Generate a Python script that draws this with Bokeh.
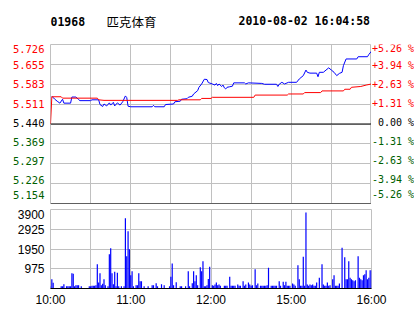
from bokeh.plotting import figure
from bokeh.layouts import column, row
from bokeh.models import Range1d, FixedTicker, Span, Grid, ColumnDataSource
from bokeh.core.properties import value
from bokeh.embed import file_html
from bokeh.resources import INLINE

code = "01968"
name = "匹克体育"
stamp = "2010-08-02 16:04:58"
prev_close = 5.440
price_ticks = [5.154, 5.226, 5.297, 5.369, 5.440, 5.511, 5.583, 5.655, 5.726]
price_labels = ["5.154", "5.226", "5.297", "5.369", "5.440", "5.511", "5.583", "5.655", "5.726"]
pct_labels = ["-5.26 %", "-3.94 %", "-2.63 %", "-1.31 %", "0.00 %", "+1.31 %", "+2.63 %", "+3.94 %", "+5.26 %"]
vol_ticks = [975, 1950, 2925, 3900]
time_ticks = [0, 60, 120, 180, 240]
time_labels = ["10:00", "11:00", "12:00", "15:00", "16:00"]
grid_minutes = [30, 60, 90, 120, 150, 180, 210]

# price line (minutes since open, price)
price_min = [1, 3, 5, 7, 9, 10, 15, 16, 19, 21, 22, 30, 31, 36, 37, 39, 40, 42, 44, 45,
             47, 48, 50, 52, 54, 56, 57, 58, 60, 76, 77, 78, 85, 86, 92, 93, 97, 98, 102, 103,
             106, 107, 110, 111, 113, 115, 117, 118, 121, 123, 124, 125, 126, 128, 129, 130, 131, 132, 134, 136,
             137, 145, 146, 148, 158, 160, 169, 170, 171, 173, 175, 178, 184, 186, 189, 191, 192, 194, 199, 200,
             201, 204, 206, 208, 210, 212, 214, 216, 218, 219, 221, 229, 230, 237, 238, 240]
price_val = [5.540, 5.530, 5.522, 5.515, 5.529, 5.515, 5.515, 5.537, 5.537, 5.528, 5.524, 5.524, 5.527, 5.527, 5.510, 5.503, 5.512, 5.505, 5.516, 5.508,
             5.518, 5.505, 5.516, 5.508, 5.520, 5.541, 5.535, 5.504, 5.502, 5.502, 5.507, 5.502, 5.502, 5.510, 5.512, 5.520, 5.522, 5.529, 5.531, 5.536,
             5.540, 5.548, 5.560, 5.572, 5.584, 5.601, 5.600, 5.589, 5.584, 5.580, 5.586, 5.578, 5.584, 5.575, 5.580, 5.570, 5.566, 5.572, 5.574, 5.576,
             5.588, 5.588, 5.584, 5.588, 5.586, 5.583, 5.583, 5.575, 5.583, 5.590, 5.584, 5.590, 5.590, 5.602, 5.614, 5.634, 5.626, 5.623, 5.623, 5.610,
             5.626, 5.626, 5.634, 5.642, 5.634, 5.626, 5.614, 5.622, 5.626, 5.650, 5.674, 5.674, 5.682, 5.682, 5.690, 5.702]

# average price line
avg_min = [0, 1, 8, 9, 35, 36, 40, 95, 96, 112, 113, 120, 121, 152, 153, 177, 178, 189, 190, 202,
           203, 219, 220, 224, 225, 232, 236, 240]
avg_val = [5.440, 5.538, 5.538, 5.533, 5.533, 5.527, 5.525, 5.525, 5.527, 5.527, 5.532, 5.532, 5.536, 5.536, 5.544, 5.544, 5.548, 5.548, 5.553, 5.553,
           5.559, 5.559, 5.565, 5.565, 5.572, 5.575, 5.580, 5.584]

# volume per minute
vol_min = [0, 1, 2, 8, 9, 10, 12, 13, 14, 15, 16, 17, 18, 19, 20, 21, 23, 29, 30, 31,
           32, 33, 34, 35, 36, 37, 38, 39, 40, 41, 43, 44, 45, 46, 47, 48, 49, 50, 51, 53,
           55, 56, 57, 58, 59, 60, 61, 62, 64, 65, 66, 67, 68, 70, 73, 76, 77, 79, 80, 83,
           85, 89, 90, 91, 92, 94, 97, 98, 101, 103, 104, 106, 107, 108, 109, 110, 112, 113, 114, 115,
           116, 117, 118, 119, 121, 122, 123, 124, 125, 126, 127, 130, 131, 132, 134, 135, 136, 137, 138, 140,
           141, 142, 144, 145, 146, 148, 149, 150, 151, 153, 154, 155, 157, 158, 159, 160, 161, 162, 163, 165,
           166, 167, 168, 169, 171, 172, 174, 175, 176, 177, 178, 179, 181, 182, 183, 185, 186, 187, 188, 189,
           190, 191, 192, 193, 194, 195, 196, 197, 198, 199, 201, 203, 204, 205, 206, 207, 208, 209, 211, 212,
           213, 214, 215, 216, 218, 220, 221, 222, 223, 224, 225, 226, 227, 228, 230, 231, 232, 233, 234, 235,
           236, 237, 238, 239, 240]
vol_val = [115, 460, 280, 115, 115, 214, 115, 115, 115, 115, 757, 724, 115, 165, 165, 165, 115, 115, 115, 140,
           140, 140, 165, 1200, 296, 757, 165, 230, 460, 165, 115, 1695, 1990, 757, 214, 823, 115, 774, 115, 115,
           115, 3473, 1597, 2831, 1942, 658, 856, 115, 165, 165, 757, 362, 362, 115, 115, 165, 165, 263, 115, 214,
           165, 115, 576, 1234, 165, 313, 115, 115, 115, 856, 115, 263, 856, 362, 658, 165, 1053, 856, 1350, 115,
           115, 165, 470, 1070, 165, 130, 200, 296, 165, 200, 130, 130, 130, 130, 576, 130, 130, 130, 130, 200,
           130, 130, 362, 130, 200, 296, 200, 130, 165, 955, 165, 247, 130, 130, 130, 130, 130, 165, 1020, 130,
           130, 130, 130, 130, 362, 130, 329, 165, 329, 130, 130, 130, 247, 200, 130, 1152, 461, 130, 130, 1564,
           130, 3753, 200, 130, 200, 165, 200, 130, 130, 296, 527, 1202, 200, 130, 130, 296, 130, 165, 461, 658,
           130, 130, 130, 247, 2008, 1547, 461, 461, 1350, 527, 461, 411, 362, 411, 1597, 527, 461, 411, 658, 708,
           905, 461, 527, 905, 905]

RED = "#ff0000"
GREEN = "#006000"
BLUE = "#0000ff"
GRID = "#c0c0c0"
MONO = "DejaVu Sans Mono"
SANS = "Liberation Sans"
CJK = "Noto Sans CJK SC"

LEFT_W, RIGHT_W, TOTAL_W = 50, 43, 414
MAIN_W = TOTAL_W - LEFT_W - RIGHT_W
HEAD_H, PRICE_H, GAP_H, VOL_FRAME_H, AXIS_H = 44, 159, 6, 79, 26

x_lo, x_hi = time_ticks[0], time_ticks[-1]
xr = Range1d(x_lo, x_hi)
yr_price = Range1d(price_ticks[0], price_ticks[-1])
# label columns: same scale as the price frame, extended down over the gap
per_px = (price_ticks[-1] - price_ticks[0]) / PRICE_H
yr_labels = Range1d(price_ticks[0] - GAP_H * per_px, price_ticks[-1])


def bare(width, height, x_range, y_range):
    f = figure(width=width, height=height, x_range=x_range, y_range=y_range,
               x_axis_type=None, y_axis_type=None, output_backend="svg",
               toolbar_location=None, min_border=0)
    f.outline_line_color = None
    return f


# ---------------- header ----------------
head = figure(width=TOTAL_W, height=HEAD_H, x_range=xr, y_range=Range1d(0, 1),
              x_axis_type=None, y_axis_type=None, output_backend="svg",
              toolbar_location=None, min_border_left=LEFT_W, min_border_right=RIGHT_W,
              min_border_top=0, min_border_bottom=0)
head.outline_line_color = None
head.text(x=[x_lo], y=[1], text=[code], text_align="left", text_baseline="alphabetic",
          y_offset=20.5, text_font=value(MONO), text_font_style="bold",
          text_font_size="11.5px", text_color="black")
head.text(x=[x_lo], y=[1], text=[name], text_align="left", text_baseline="alphabetic",
          x_offset=56, y_offset=20.5, text_font=value(CJK),
          text_font_size="12.5px", text_color="black")
head.text(x=[x_hi], y=[1], text=[stamp], text_align="right", text_baseline="alphabetic",
          x_offset=-1.5, y_offset=20.5, text_font=value(MONO), text_font_style="bold",
          text_font_size="11.5px", text_color="black")

# ---------------- price panel ----------------
p1 = figure(width=MAIN_W, height=PRICE_H + GAP_H, x_range=xr, y_range=yr_price,
            x_axis_type=None, y_axis_type=None, output_backend="svg",
            toolbar_location=None, min_border=0, min_border_bottom=GAP_H)
p1.outline_line_color = GRID
p1.add_layout(Grid(dimension=0, ticker=FixedTicker(ticks=grid_minutes), grid_line_color=GRID))
p1.add_layout(Grid(dimension=1, ticker=FixedTicker(ticks=price_ticks[1:-1]), grid_line_color=GRID))
p1.add_layout(Span(location=prev_close, dimension="width", line_color="black", line_width=1))
p1.add_layout(Span(location=price_ticks[0], dimension="width", line_color="black", line_width=1))
p1.line(price_min, price_val, line_color=BLUE, line_width=1)
p1.line(avg_min, avg_val, line_color=RED, line_width=1)

colors = [RED if v > prev_close else (GREEN if v < prev_close else "black") for v in price_ticks]
n = len(price_ticks)
dy = [(-3 if i == 0 else (4 if i == n - 1 else 1.5)) for i in range(n)]
dx_right = [6.5 if v == prev_close else 0.5 for v in price_ticks]

left_src = ColumnDataSource(dict(y=price_ticks, text=price_labels, color=colors, dy=dy))
right_src = ColumnDataSource(dict(y=price_ticks, text=pct_labels, color=colors, dy=dy, dx=dx_right))

pl = bare(LEFT_W, PRICE_H + GAP_H, Range1d(0, 1), yr_labels)
pl.text(x=1, y="y", text="text", source=left_src, text_color="color", y_offset="dy",
        x_offset=-6, text_align="right", text_baseline="middle",
        text_font=value(MONO), text_font_size="10.5px")

pr = bare(RIGHT_W, PRICE_H + GAP_H, Range1d(0, 1), yr_labels)
pr.text(x=0, y="y", text="text", source=right_src, text_color="color", y_offset="dy",
        x_offset="dx", text_align="left", text_baseline="middle",
        text_font=value(MONO), text_font_size="10px")

# ---------------- volume panel ----------------
p2 = figure(width=TOTAL_W, height=VOL_FRAME_H + AXIS_H, x_range=xr,
            y_range=Range1d(0, vol_ticks[-1]),
            output_backend="svg", toolbar_location=None,
            min_border_left=LEFT_W, min_border_right=RIGHT_W,
            min_border_top=0, min_border_bottom=AXIS_H)
p2.outline_line_color = GRID
p2.xaxis.ticker = FixedTicker(ticks=time_ticks)
p2.xaxis.major_label_overrides = {t: l for t, l in zip(time_ticks, time_labels)}
p2.xaxis.axis_line_color = "black"
p2.xaxis.major_tick_line_color = None
p2.xaxis.minor_tick_line_color = None
p2.xaxis.major_tick_out = 0
p2.xaxis.major_tick_in = 0
p2.xaxis.major_label_standoff = 4
p2.xaxis.major_label_text_font = SANS
p2.xaxis.major_label_text_font_size = "12px"
p2.xaxis.major_label_text_color = "black"
p2.xgrid.ticker = FixedTicker(ticks=grid_minutes)
p2.xgrid.grid_line_color = GRID

p2.yaxis.ticker = FixedTicker(ticks=vol_ticks)
p2.yaxis.axis_line_color = None
p2.yaxis.major_tick_line_color = None
p2.yaxis.minor_tick_line_color = None
p2.yaxis.major_tick_out = 0
p2.yaxis.major_tick_in = 0
p2.yaxis.major_label_standoff = 6
p2.yaxis.major_label_text_font = SANS
p2.yaxis.major_label_text_font_size = "12px"
p2.yaxis.major_label_text_color = "black"
p2.ygrid.ticker = FixedTicker(ticks=vol_ticks[:-1])
p2.ygrid.grid_line_color = GRID

p2.vbar(x=vol_min, top=vol_val, width=0.9, fill_color=BLUE, line_color=None)

layout = column(head, row(pl, p1, pr, spacing=0), p2, spacing=0)
open("out.html", "w").write(file_html(layout, INLINE))
